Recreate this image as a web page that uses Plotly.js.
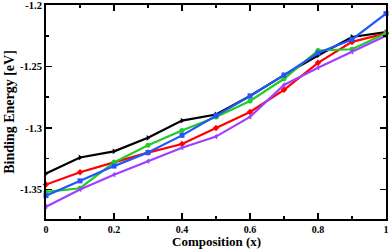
<!DOCTYPE html>
<html>
<head>
<meta charset="utf-8">
<script src="https://cdn.plot.ly/plotly-3.0.1.min.js"></script>
<style>html,body{margin:0;padding:0;background:#fff}#chart{width:392px;height:250px}</style>
</head>
<body>
<div id="chart"></div>
<script>
var composition = [0, 0.1, 0.2, 0.3, 0.4, 0.5, 0.6, 0.7, 0.8, 0.9, 1.0];
var seriesBlack  = [-1.337, -1.324, -1.319, -1.308, -1.294, -1.289, -1.274, -1.257, -1.241, -1.226, -1.222];
var seriesRed    = [-1.346, -1.336, -1.328, -1.320, -1.313, -1.300, -1.287, -1.269, -1.247, -1.230, -1.223];
var seriesGreen  = [-1.352, -1.349, -1.328, -1.314, -1.302, -1.291, -1.278, -1.260, -1.237, -1.236, -1.223];
var seriesBlue   = [-1.355, -1.343, -1.331, -1.320, -1.306, -1.290, -1.274, -1.257, -1.239, -1.228, -1.207];
var seriesPurple = [-1.364, -1.350, -1.338, -1.327, -1.316, -1.307, -1.291, -1.265, -1.251, -1.238, -1.225];

var yTickVals = [-1.35, -1.3, -1.25, -1.2];
var yTickText = ['-1.35', '-1.3', '-1.25', '-1.2'];
var xTickVals = [0, 0.2, 0.4, 0.6, 0.8, 1];
var xTickText = ['0', '0.2', '0.4', '0.6', '0.8', '1'];
var xTitle = 'Composition (x)';
var yTitle = 'Binding Energy [eV]';

function tr(y, color, symbol) {
  return {x: composition, y: y, type: 'scatter', mode: 'lines+markers',
    line: {color: color, width: 2.2},
    marker: {color: color, symbol: symbol, size: 5},
    showlegend: false, cliponaxis: false};
}
var data = [
  tr(seriesBlack, '#000000', 'triangle-right'),
  tr(seriesRed, '#ff0000', 'diamond'),
  tr(seriesGreen, '#22cc22', 'circle'),
  tr(seriesBlue, '#2255ff', 'square'),
  tr(seriesPurple, '#a040ff', 'triangle-left')
];
var fam = 'Liberation Serif, Times New Roman, serif';
var layout = {
  width: 392, height: 250,
  margin: {l: 46, r: 6, t: 5, b: 31},
  paper_bgcolor: '#fff', plot_bgcolor: '#fff',
  font: {family: fam, color: '#000'},
  xaxis: {
    range: [0, 1.00001], tickvals: xTickVals, ticktext: xTickText,
    ticks: 'inside', ticklen: 6, tickwidth: 1.5, tickcolor: '#000',
    minor: {ticks: 'inside', dtick: 0.1, tick0: 0, ticklen: 3, tickwidth: 1.5, tickcolor: '#000', showgrid: false},
    showline: true, linewidth: 2, linecolor: '#000', mirror: 'allticks',
    showgrid: false, zeroline: false, automargin: false,
    ticklabeloverflow: 'allow',
    tickfont: {family: fam, size: 10, color: '#000', weight: 'bold'}
  },
  yaxis: {
    range: [-1.374, -1.2], tickvals: yTickVals, ticktext: yTickText,
    ticks: 'inside', ticklen: 6, tickwidth: 1.5, tickcolor: '#000',
    minor: {ticks: 'inside', dtick: 0.025, tick0: -1.2, ticklen: 3, tickwidth: 1.5, tickcolor: '#000', showgrid: false},
    showline: true, linewidth: 2, linecolor: '#000', mirror: 'allticks',
    showgrid: false, zeroline: false, automargin: false,
    ticklabeloverflow: 'allow',
    tickfont: {family: fam, size: 10.5, color: '#000', weight: 'bold'},
    title: {text: '<b>' + yTitle + '</b>', font: {family: fam, size: 14, color: '#000'}, standoff: 2}
  },
  annotations: [{
    text: '<b>' + xTitle + '</b>', xref: 'paper', yref: 'paper', x: 0.5, y: 0,
    xanchor: 'center', yanchor: 'bottom', yshift: -30.5, showarrow: false,
    borderpad: 0, font: {family: fam, size: 13, color: '#000'}
  }]
};
Plotly.newPlot('chart', data, layout, {staticPlot: true, displayModeBar: false});
</script>
</body>
</html>
